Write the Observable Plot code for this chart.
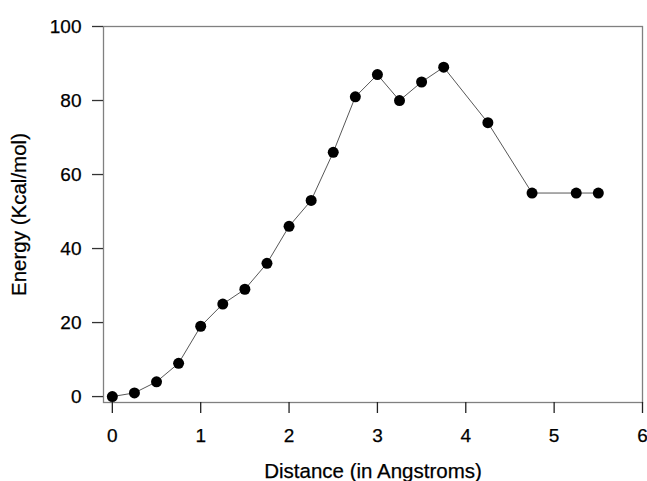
<!DOCTYPE html>
<html>
<head>
<meta charset="utf-8">
<script src="https://cdn.jsdelivr.net/npm/d3@7"></script>
<script src="https://cdn.jsdelivr.net/npm/@observablehq/plot@0.6"></script>
<style>
  html, body { margin: 0; padding: 0; background: #fff; }
  svg { font-family: "Liberation Sans", Arial, sans-serif; }
  svg text { stroke: #000; stroke-width: 0.25px; }
</style>
</head>
<body>
<div id="chart"></div>
<script>
const distance = [0, 0.25, 0.5, 0.75, 1, 1.25, 1.5, 1.75, 2, 2.25, 2.5, 2.75, 3, 3.25, 3.5, 3.75, 4.25, 4.75, 5.25, 5.5];
const energy   = [0, 1, 4, 9, 19, 25, 29, 36, 46, 53, 66, 81, 87, 80, 85, 89, 74, 55, 55, 55];
const xTicks = [0, 1, 2, 3, 4, 5, 6];
const yTicks = [0, 20, 40, 60, 80, 100];
const xLabel = "Distance (in Angstroms)";
const yLabel = "Energy (Kcal/mol)";

const data = distance.map((d, i) => ({x: d, y: energy[i]}));

const chart = Plot.plot({
  width: 647,
  height: 481,
  marginLeft: 103,
  marginRight: 5,
  marginTop: 26,
  marginBottom: 79,
  style: {fontFamily: "Liberation Sans, Arial, sans-serif", fontSize: "19px", color: "#000", background: "#fff"},
  x: {domain: [-0.1, 6]},
  y: {domain: [-1.6, 100]},
  marks: [
    Plot.frame({stroke: "#808080", strokeWidth: 1.3}),
    Plot.axisX({ticks: xTicks, tickFormat: "d", tickSize: 11, tickPadding: 15, stroke: "#222", strokeWidth: 1.3, fontSize: 19, label: null}),
    Plot.axisX({ticks: [], label: xLabel, labelAnchor: "center", labelOffset: 75, labelArrow: "none", fontSize: 20.5}),
    Plot.axisY({ticks: yTicks, tickFormat: "d", tickSize: 11, tickPadding: 11, stroke: "#333", strokeWidth: 1.3, fontSize: 19, label: null}),
    Plot.axisY({ticks: [], label: yLabel, labelAnchor: "center", labelOffset: 92, labelArrow: "none", fontSize: 20.5}),
    Plot.line(data, {x: "x", y: "y", stroke: "#444", strokeWidth: 0.9}),
    Plot.dot(data, {x: "x", y: "y", r: 5.5, fill: "#000", stroke: "none"})
  ]
});
document.getElementById("chart").appendChild(chart);
</script>
</body>
</html>
